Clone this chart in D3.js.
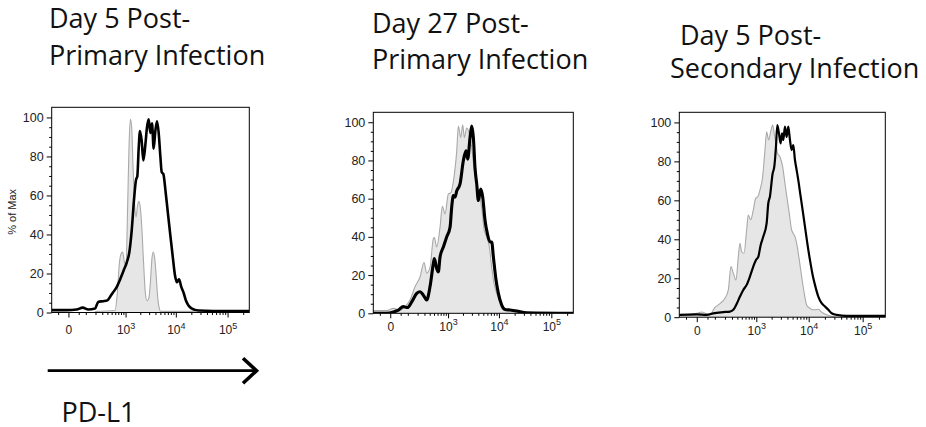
<!DOCTYPE html>
<html>
<head>
<meta charset="utf-8">
<script src="https://cdn.jsdelivr.net/npm/d3@7"></script>
<style>
  body { margin: 0; background: #fff; }
  svg { display: block; }
</style>
</head>
<body>
<svg id="chart" width="926" height="427"></svg>
<script>
// ---- Axis definitions -------------------------------------------------
const xDomain = [-95, 262143];          // fluorescence range (biexponential-like display)
const yDomain = [0, 105.2];             // % of Max, frame runs a bit above 100
const xMajorTicks = [0, 1e3, 1e4, 1e5];
const xTickBases = ["0", "10", "10", "10"];
const xTickExps = ["", "3", "4", "5"];
const xMinorTicks = [-50, 50, 100, 200, 300, 400, 500, 600, 700, 800, 900,
  2000, 3000, 4000, 5000, 6000, 7000, 8000, 9000,
  20000, 30000, 40000, 50000, 60000, 70000, 80000, 90000, 200000];
const yMajorTicks = [0, 20, 40, 60, 80, 100];
const yMinorTicks = [5, 10, 15, 25, 30, 35, 45, 50, 55, 65, 70, 75, 85, 90, 95];

const panelTitles = [
  ["Day 5 Post-", "Primary Infection"],
  ["Day 27 Post-", "Primary Infection"],
  ["Day 5 Post-", "Secondary Infection"]
];
const yAxisTitle = "% of Max";
const markerLabel = "PD-L1";

// ---- Histograms: [fluorescence, % of Max] ------------------------------
// Day 5 post-primary: control (grey) and PD-L1 stain (black)
const d5PrimaryControl = [[-95,0],[174,0],[215,0.6],[594,1],[668,10],[738,25],[801,30],[869,31],
  [942,26],[1022,24],[1106,55],[1179,85],[1257,99],[1339,95],[1425,75],[1541,55],[1640,49],
  [1746,54],[1856,57],[1975,55],[2132,45],[2302,28],[2526,10],[2725,6],[2941,7],[3172,15],
  [3421,28],[3636,31],[3863,28],[4103,20],[4425,8],[4770,2],[5066,0.6],[21520,0.6],[23530,0],[262143,0]];
const d5PrimarySample = [[-95,1.2],[-7,1.2],[38,1.5],[76,2.5],[122,1.5],[194,2],[239,5.5],[319,5.8],
  [398,6.2],[459,8],[545,10.5],[646,13],[738,16],[828,19],[928,22],[1054,25.5],[1199,31],[1339,42],
  [1495,58],[1640,68],[1746,70],[1856,84],[1975,93],[2132,88],[2302,78],[2526,86],[2725,95],[2941,99],
  [3172,92],[3421,97],[3689,84],[3978,93],[4298,98],[4634,92],[4997,80],[5307,72],[5722,71],[6257,63],
  [6947,52],[7716,41],[8683,29],[9640,19],[10540,15.5],[11530,17],[12800,13],[14200,10],[15770,6],
  [17740,3.5],[20560,2],[27260,1],[53130,0.8],[129000,0.8],[262143,0.8]];

// Day 27 post-primary
const d27PrimaryControl = [[-95,1.4],[-14,1.4],[13,2.6],[46,1.7],[79,3.5],[119,7],[170,14],[232,19],
  [293,26.6],[340,21],[407,24],[484,39],[510,39.6],[574,34.7],[678,45],[760,56],[866,52],[1015,62.5],
  [1133,63],[1285,69],[1501,85],[1621,98],[1804,92],[1977,98.6],[2133,92],[2372,97],[2637,94.6],
  [2974,86.8],[3304,76],[3724,67.7],[4197,62.5],[4727,53.8],[5166,44],[5817,40],[6548,34.7],[7266,24],
  [8054,15.6],[9064,10.4],[10500,6],[12170,3],[15160,1.7],[18900,1.4],[25340,0],[262143,0]];
const d27PrimarySample = [[-95,0],[-14,0],[13,0.7],[37,1.7],[67,3.5],[97,3],[135,6],[189,10.4],
  [232,11.3],[282,9.5],[340,7],[407,14],[484,26],[510,28.6],[574,23.4],[624,21.7],[678,29.5],[798,34.7],
  [938,40],[1099,45],[1188,55.6],[1285,61.6],[1389,60.8],[1501,64],[1750,67.7],[2038,80],[2301,85],
  [2483,80.7],[2759,92],[2974,98],[3206,92],[3456,76],[3724,67.7],[4013,59],[4453,65],[4869,60.8],
  [5403,48.6],[5993,41.7],[6744,37.3],[7266,37.3],[7821,29.5],[8800,17.4],[9757,10.4],[11300,4.3],
  [13090,2],[16320,1.7],[21880,1.2],[33970,0.3],[262143,0]];

// Day 5 post-secondary
const d5SecondaryControl = [[-95,1.2],[0,2],[20,2.7],[65,1.2],[101,5],[145,7],[200,9.7],[244,14],
  [283,26],[322,22.6],[371,19],[419,31],[456,38],[495,33.7],[556,32.8],[634,44.8],[686,52.5],[767,50],
  [869,55],[969,61],[1079,62],[1183,65.3],[1335,72],[1484,85.8],[1599,95.2],[1749,91],[1911,95],
  [2089,98.6],[2249,94],[2421,89],[2604,84],[2885,82.4],[3242,77.3],[3589,68.7],[3972,60.2],[4331,53.3],
  [4794,44.8],[5152,43],[5537,41.4],[5949,38],[6675,29.4],[7381,20.9],[8162,13.2],[9155,6.3],
  [10550,4.6],[11840,3.8],[13080,3.8],[15100,4.1],[17400,2.6],[21540,1.2],[28640,0.3],[33010,0],[262143,0]];
const d5SecondarySample = [[-95,1.2],[0,1.5],[45,1.2],[88,2],[180,2.6],[268,2.9],[322,3.8],[384,6.8],
  [456,10.6],[538,14],[634,16.6],[743,20.9],[869,26],[985,29.4],[1096,31],[1220,37],[1376,41.4],
  [1599,48.2],[1723,58.5],[1855,62],[2089,73.8],[2249,77.3],[2421,87.5],[2566,98.6],[2762,94.4],
  [2970,89.2],[3149,94.4],[3338,91],[3589,97.8],[3858,92.6],[4148,97.8],[4459,91],[4794,85.8],
  [5152,88.4],[5537,80.7],[5949,75.6],[6393,70.4],[7070,62],[7706,55],[8520,46.5],[9419,38],
  [10550,29.4],[11840,21.7],[13080,16.6],[15100,10.6],[17400,7.2],[20060,5.5],[23140,3.8],[26670,2],
  [33010,1.2],[50550,0.7],[262143,0.7]];

// ---- Layout -----------------------------------------------------------
const panels = [
  { title: panelTitles[0], control: d5PrimaryControl, sample: d5PrimarySample,
    left: 51.7, right: 249.3, top: 107.3, bottom: 312.5, lineWidth: 2.6,
    titleX: [49, 49], titleY: [28, 65], xPad: 8, showYTitle: true },
  { title: panelTitles[1], control: d27PrimaryControl, sample: d27PrimarySample,
    left: 373.3, right: 573.3, top: 112.3, bottom: 313.3, lineWidth: 3.1,
    titleX: [372, 372], titleY: [33, 69], xPad: 4, showYTitle: false },
  { title: panelTitles[2], control: d5SecondaryControl, sample: d5SecondarySample,
    left: 679.3, right: 885.3, top: 112.3, bottom: 317.2, lineWidth: 2.2,
    titleX: [680, 670], titleY: [45, 78], xPad: 4, showYTitle: false }
];

const tickFont = "'Liberation Sans', Arial, sans-serif";
const titleFont = "'Open Sans', 'Noto Sans', sans-serif";

const svg = d3.select("#chart");

panels.forEach((p, idx) => {
  const x = d3.scaleSymlog().constant(86.3).domain(xDomain).range([p.left, p.right]);
  const y = d3.scaleLinear().domain(yDomain).range([p.bottom, p.top]);
  const g = svg.append("g").attr("class", "panel");

  const clipId = "clip" + idx;
  svg.append("clipPath").attr("id", clipId)
    .append("rect").attr("x", p.left).attr("y", p.top)
    .attr("width", p.right - p.left).attr("height", p.bottom - p.top);

  const plot = g.append("g").attr("clip-path", `url(#${clipId})`);

  const area = d3.area().x(d => x(d[0])).y0(y(0)).y1(d => y(d[1])).curve(d3.curveMonotoneX);
  const line = d3.line().x(d => x(d[0])).y(d => y(d[1])).curve(d3.curveMonotoneX);

  plot.append("path").datum(p.control).attr("d", area).attr("fill", "#e6e6e6");
  plot.append("path").datum(p.control).attr("d", line)
    .attr("fill", "none").attr("stroke", "#a9a9a9").attr("stroke-width", 1.1);
  plot.append("path").datum(p.sample).attr("d", line)
    .attr("fill", "none").attr("stroke", "#000").attr("stroke-width", p.lineWidth)
    .attr("stroke-linejoin", "round");

  // frame
  g.append("rect").attr("x", p.left).attr("y", p.top)
    .attr("width", p.right - p.left).attr("height", p.bottom - p.top)
    .attr("fill", "none").attr("stroke", "#000").attr("stroke-width", 1);

  // y axis
  const yAx = g.append("g").attr("transform", `translate(${p.left},0)`)
    .call(d3.axisLeft(y).tickValues(yMajorTicks).tickSize(5).tickPadding(3));
  const yMin = g.append("g").attr("transform", `translate(${p.left},0)`)
    .call(d3.axisLeft(y).tickValues(yMinorTicks).tickSize(2.5).tickFormat(""));

  // x axis
  const xAx = g.append("g").attr("transform", `translate(0,${p.bottom})`)
    .call(d3.axisBottom(x).tickValues(xMajorTicks).tickSize(5).tickPadding(p.xPad)
      .tickFormat((d, i) => xTickBases[i]));
  const xMin = g.append("g").attr("transform", `translate(0,${p.bottom})`)
    .call(d3.axisBottom(x).tickValues(xMinorTicks).tickSize(2.5).tickFormat(""));

  xAx.selectAll(".tick text").each(function (d, i) {
    const t = d3.select(this);
    if (xTickExps[i]) {
      t.append("tspan").text(xTickExps[i])
        .attr("font-size", 9).attr("dy", "-0.6em");
    }
  });

  [yAx, yMin, xAx, xMin].forEach(a => {
    a.select(".domain").remove();
    a.selectAll(".tick line").attr("stroke", "#000");
    a.selectAll("text").attr("font-family", tickFont).attr("fill", "#222");
  });
  yAx.selectAll(".tick text").attr("font-size", 12.5);
  xAx.selectAll(".tick text").attr("font-size", 12);

  if (p.showYTitle) {
    g.append("text")
      .attr("transform", `translate(16,${(p.top + p.bottom) / 2 + 2}) rotate(-90)`)
      .attr("text-anchor", "middle")
      .attr("font-family", tickFont).attr("font-size", 11).attr("fill", "#222")
      .text(yAxisTitle);
  }

  // panel title (two lines)
  p.title.forEach((s, k) => {
    g.append("text").attr("x", p.titleX[k]).attr("y", p.titleY[k])
      .attr("font-family", titleFont).attr("font-size", 27).attr("fill", "#111")
      .text(s);
  });
});

// marker arrow and label beneath the first panel
const arrowY = 370.7;
svg.append("line").attr("x1", 47.7).attr("x2", 255.5)
  .attr("y1", arrowY).attr("y2", arrowY)
  .attr("stroke", "#000").attr("stroke-width", 2.7);
svg.append("path")
  .attr("d", `M243,${arrowY - 12.5} L256.5,${arrowY} L243,${arrowY + 12.5}`)
  .attr("fill", "none").attr("stroke", "#000").attr("stroke-width", 3.6)
  .attr("stroke-linejoin", "miter");
svg.append("text").attr("x", 61.5).attr("y", 421.7)
  .attr("font-family", titleFont).attr("font-size", 27).attr("fill", "#111")
  .text(markerLabel);
</script>
</body>
</html>
